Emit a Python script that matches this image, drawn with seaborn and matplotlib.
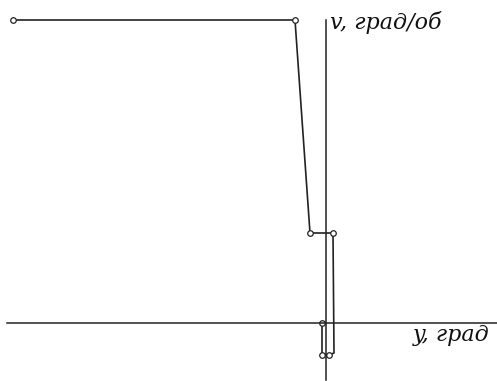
import matplotlib
matplotlib.use("Agg")
import matplotlib.pyplot as plt
import seaborn as sns
import pandas as pd

# data (angle y, deg; speed v, deg/rev), arbitrary units
y_deg = [-313, -31, -16, 7, 8, 3, -4, -4]
v_speed = [303, 303, 90, 90, -30, -32, -32, 0]
x_label = "y, град"
y_label = "v, град/об"

sns.set_theme(style="white")
plt.rcParams['font.family'] = ['DejaVu Serif', 'Liberation Serif']

fig = plt.figure(figsize=(4.97, 3.81), dpi=100)
ax = fig.add_axes([0, 0, 1, 1])
df = pd.DataFrame({"y": y_deg, "v": v_speed})
sns.lineplot(data=df, x="y", y="v", sort=False, estimator=None, ax=ax, color="#222222",
             linewidth=1.2, marker="o", markersize=4, markevery=[0, 1, 2, 3, 5, 6, 7],
             markerfacecolor="white", markeredgecolor="#222222", markeredgewidth=0.9)

ax.set_xlim(-326, 171)
ax.set_ylim(-58, 323)
for s in ["top", "right"]:
    ax.spines[s].set_visible(False)
ax.spines["left"].set_position(("data", 0))
ax.spines["bottom"].set_position(("data", 0))
ax.spines["left"].set_bounds(-57, 303)
ax.spines["bottom"].set_bounds(-319, 171)
for s in ["left", "bottom"]:
    ax.spines[s].set_color("#222222")
    ax.spines[s].set_linewidth(1.1)
ax.set_xticks([])
ax.set_yticks([])
ax.set_xlabel("")
ax.set_ylabel("")
ax.patch.set_alpha(0)

ax.text(4, 301, y_label, fontsize=16, style="italic", ha="left", va="center", color="#111111")
ax.text(164, -12, x_label, fontsize=16, style="italic", ha="right", va="center", color="#111111")

fig.savefig("out.png", dpi=100)
